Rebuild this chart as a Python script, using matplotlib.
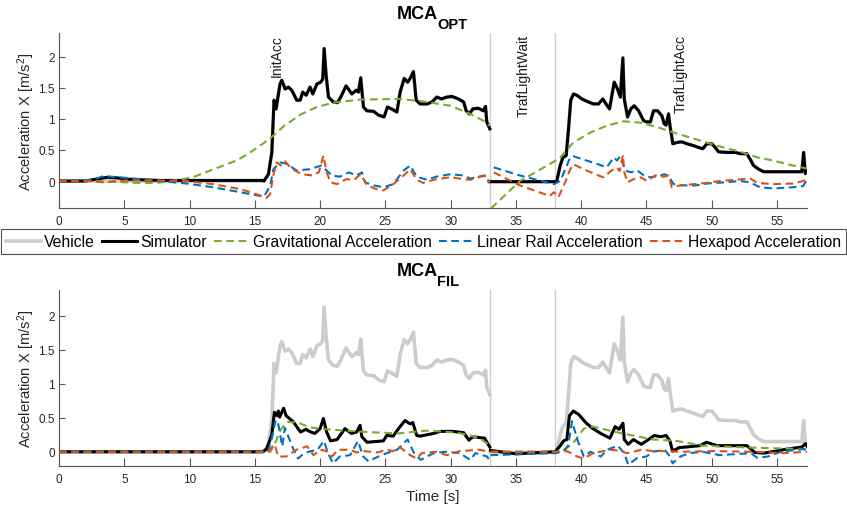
import numpy as np
import matplotlib
matplotlib.use("Agg")
import matplotlib.pyplot as plt

plt.rcParams['font.family'] = ['Liberation Sans', 'DejaVu Sans']
plt.rcParams['mathtext.fontset'] = 'custom'
plt.rcParams['mathtext.rm'] = 'Liberation Sans'
plt.rcParams['mathtext.it'] = 'Liberation Sans:italic'
plt.rcParams['mathtext.bf'] = 'Liberation Sans:bold'

nan = np.nan

# vehicle acceleration (same in both panels)
vehicle_pts = [(0, 0), (15.7, 0.0), (16.04, 0.11), (16.3, 0.46), (16.47, 1.30), (16.63, 1.16), (16.73, 1.30),
               (16.93, 1.56), (17.06, 1.62), (17.32, 1.48), (17.57, 1.51), (17.83, 1.46), (18.21, 1.30),
               (18.47, 1.30), (18.67, 1.43), (18.93, 1.38), (19.23, 1.51), (19.44, 1.40), (19.75, 1.56),
               (20.05, 1.59), (20.2, 1.64), (20.31, 2.13), (20.46, 1.70), (20.64, 1.35), (21.02, 1.27),
               (21.33, 1.26), (21.58, 1.35), (21.99, 1.53), (22.43, 1.40), (22.76, 1.46), (22.94, 1.43),
               (23.11, 1.66), (23.32, 1.19), (23.58, 1.13), (24.1, 1.12), (24.47, 1.06), (24.9, 1.03),
               (25.16, 1.19), (25.47, 1.16), (25.88, 1.11), (26.13, 1.43), (26.44, 1.65), (26.7, 1.59),
               (26.9, 1.65), (27.15, 1.76), (27.36, 1.30), (27.66, 1.24), (28.2, 1.24), (28.56, 1.27),
               (28.94, 1.35), (29.3, 1.32), (29.7, 1.35), (30.1, 1.36), (30.6, 1.32), (31.0, 1.27),
               (31.19, 1.13), (31.44, 1.08), (31.7, 1.16), (32.13, 1.17), (32.5, 1.13), (32.67, 1.20),
               (32.77, 0.95), (33.0, 0.84), (33.0, nan),
               (33.05, -0.01), (38.0, -0.01), (38.13, 0.0), (38.39, 0.25), (38.6, 0.38), (38.85, 0.41),
               (39.03, 0.84), (39.2, 1.30), (39.41, 1.40), (39.66, 1.38), (40.05, 1.32), (40.56, 1.27),
               (40.94, 1.24), (41.33, 1.24), (41.66, 1.32), (41.9, 1.24), (42.17, 1.16), (42.53, 1.59),
               (42.78, 1.48), (43.0, 1.35), (43.19, 1.98), (43.3, 1.32), (43.55, 1.03), (43.8, 1.16),
               (44.06, 1.21), (44.4, 1.13), (44.78, 0.97), (45.03, 0.95), (45.3, 0.95), (45.54, 1.13),
               (45.85, 1.13), (46.18, 1.05), (46.36, 0.92), (46.5, 0.90), (46.69, 1.08), (46.8, 0.89),
               (47.02, 0.60), (47.33, 0.62), (47.7, 0.63), (48.1, 0.60), (48.6, 0.57), (48.99, 0.54),
               (49.32, 0.52), (49.63, 0.60), (50.0, 0.60), (50.27, 0.54), (50.52, 0.47), (51.16, 0.46),
               (51.8, 0.46), (52.18, 0.44), (52.69, 0.44), (53.0, 0.33), (53.2, 0.25), (53.6, 0.19),
               (53.97, 0.15), (54.7, 0.15), (56.9, 0.15), (57.04, 0.46), (57.17, 0.12), (57.3, 0.16)]

# MCA_OPT: simulator follows the vehicle after the start, small bump before it
sim_opt_start = [(0, 0), (2.0, 0), (2.8, 0.03), (3.7, 0.06), (4.5, 0.05), (5.2, 0.03), (7.7, 0.01),
                 (15.6, 0.01)]

grav_opt_pts = [(0, 0), (2.5, 0), (4, -0.01), (6, -0.03), (7.5, -0.03), (8.5, 0.0), (9.5, 0.03),
                (10.5, 0.08), (11.6, 0.17), (12.6, 0.25), (13.6, 0.33), (14.5, 0.44), (15.4, 0.57),
                (16.2, 0.69), (17.2, 0.88), (18.5, 1.07), (19.75, 1.19), (21, 1.26), (23.1, 1.31),
                (26.1, 1.32), (27.9, 1.28), (30, 1.21), (31.5, 1.08), (32.5, 0.97), (33, 0.89), (33, nan),
                (33.1, -0.44), (34.2, -0.22), (35.3, 0.0), (36.9, 0.19), (37.9, 0.31), (38.4, 0.38),
                (39.4, 0.62), (40.7, 0.78), (41.97, 0.89), (43.24, 0.96), (44.5, 0.94), (45.8, 0.87),
                (47.07, 0.78), (48.35, 0.70), (49.6, 0.62), (50.9, 0.54), (52.2, 0.47), (53.5, 0.38),
                (54.7, 0.33), (56.0, 0.26), (57.3, 0.20)]

rail_opt_pts = [(0, 0), (2.6, 0.02), (3.4, 0.08), (5.2, 0.05), (7.7, 0.0), (9.8, -0.04), (11.8, -0.10),
                (13.9, -0.18), (15.15, -0.23), (15.7, -0.25), (16.17, -0.08), (16.42, 0.19), (16.93, 0.30),
                (17.4, 0.28), (18.2, 0.17), (19.2, 0.19), (20.1, 0.25), (20.9, 0.09), (21.5, 0.07),
                (22.2, 0.14), (22.8, 0.09), (23.2, 0.14), (23.45, -0.02), (24.1, -0.07), (24.85, -0.10),
                (25.6, -0.05), (26.4, 0.17), (26.9, 0.25), (27.4, 0.07), (28.2, 0.02), (28.9, 0.07),
                (30.0, 0.11), (31.0, 0.09), (31.5, 0.04), (32.6, 0.09), (32.9, -0.02), (33.0, -0.02),
                (33.0, nan),
                (33.3, 0.22), (35.3, 0.09), (37.9, -0.05), (38.4, 0.0), (39.16, 0.38), (39.4, 0.40),
                (40.4, 0.33), (41.3, 0.27), (41.96, 0.22), (42.5, 0.38), (42.75, 0.33), (43.0, 0.40),
                (43.37, 0.17), (43.8, 0.14), (44.3, 0.17), (44.8, 0.09), (45.3, 0.06), (46.1, 0.09),
                (46.36, 0.11), (46.7, 0.08), (47.07, -0.05), (47.8, -0.07), (48.8, -0.07), (49.6, -0.04),
                (50.4, -0.03), (52.2, 0.0), (52.9, -0.02), (53.7, -0.10), (54.7, -0.12), (56.2, -0.10),
                (57.0, -0.08), (57.3, 0.02)]

hexa_opt_pts = [(0, 0), (2.6, 0.0), (3.4, -0.02), (5.2, 0.01), (7.7, 0.01), (9.8, 0.0), (11.8, -0.05),
                (13.9, -0.13), (15.4, -0.23), (15.9, -0.27), (16.17, -0.21), (16.42, 0.10), (16.68, 0.30),
                (17.0, 0.25), (17.3, 0.32), (17.8, 0.20), (18.6, 0.11), (19.4, 0.09), (19.9, 0.14),
                (20.25, 0.41), (20.5, 0.14), (20.8, -0.02), (21.3, -0.05), (22.0, 0.03), (22.6, 0.02),
                (23.1, 0.11), (23.6, -0.07), (24.3, -0.13), (24.85, -0.15), (25.6, -0.05), (26.4, 0.09),
                (26.9, 0.19), (27.4, 0.02), (27.9, -0.03), (28.9, 0.03), (30.0, 0.06), (31.0, 0.03),
                (31.5, 0.02), (32.6, 0.09), (33.0, -0.02), (33.0, nan),
                (33.3, 0.14), (35.3, -0.07), (37.6, -0.24), (37.9, -0.18), (38.26, -0.26), (38.77, -0.02),
                (39.16, 0.19), (39.4, 0.27), (40.2, 0.19), (41.07, 0.11), (41.7, 0.06), (42.2, 0.15),
                (42.73, 0.22), (42.95, 0.16), (43.2, 0.42), (43.3, 0.14), (43.55, -0.02), (44.0, 0.03),
                (44.55, 0.06), (45.05, 0.0), (45.67, 0.09), (46.3, 0.07), (46.7, 0.09), (46.95, -0.10),
                (47.6, -0.07), (48.6, -0.05), (49.6, -0.03), (50.6, 0.0), (52.4, 0.03), (52.95, 0.04),
                (53.5, -0.03), (54.7, -0.05), (56.2, -0.04), (57.0, 0.0), (57.3, 0.04)]

# MCA_FIL components
sim_fil_pts = [(0, 0), (15.6, 0), (15.9, 0.04), (16.3, 0.25), (16.5, 0.58), (16.7, 0.53), (16.8, 0.60),
               (16.9, 0.51), (17.2, 0.64), (17.4, 0.53), (17.95, 0.44), (18.5, 0.29), (18.9, 0.33),
               (19.3, 0.29), (19.6, 0.27), (20.0, 0.34), (20.25, 0.49), (20.5, 0.29), (20.8, 0.16),
               (21.3, 0.18), (21.9, 0.34), (22.4, 0.27), (22.8, 0.29), (23.06, 0.39), (23.2, 0.22),
               (23.6, 0.14), (24.85, 0.16), (25.1, 0.24), (25.6, 0.23), (26.0, 0.34), (26.5, 0.46),
               (26.9, 0.41), (27.1, 0.43), (27.4, 0.24), (27.66, 0.23), (28.7, 0.27), (29.2, 0.30),
               (30.2, 0.30), (31.0, 0.28), (31.4, 0.17), (31.7, 0.22), (32.6, 0.20), (32.9, 0.10),
               (33.0, 0.07), (33.0, nan),
               (33.05, 0.02), (35.0, -0.03), (38.0, 0.0), (38.4, 0.09), (38.65, 0.16), (38.9, 0.18),
               (39.1, 0.53), (39.4, 0.60), (39.8, 0.55), (40.4, 0.42), (40.9, 0.34), (41.5, 0.27),
               (42.2, 0.20), (42.6, 0.37), (42.9, 0.33), (43.2, 0.42), (43.3, 0.18), (43.6, 0.11),
               (44.0, 0.18), (44.6, 0.11), (45.0, 0.16), (45.6, 0.24), (46.1, 0.22), (46.5, 0.24),
               (46.8, 0.16), (47.0, 0.01), (47.5, 0.06), (49.1, 0.09), (49.6, 0.14), (50.4, 0.09),
               (52.7, 0.09), (53.3, -0.01), (54.0, -0.02), (55.8, 0.04), (56.9, 0.07), (57.2, 0.12),
               (57.3, 0.08)]

grav_fil_pts = [(0, 0), (16.2, 0), (16.6, 0.15), (17.0, 0.33), (17.5, 0.44), (18.3, 0.43), (19.2, 0.36),
                (20.5, 0.33), (22.1, 0.31), (23.6, 0.29), (26.0, 0.27), (27.0, 0.29), (28.2, 0.31),
                (29.2, 0.30), (30.5, 0.28), (31.5, 0.24), (32.3, 0.19), (32.8, 0.12), (33.0, 0.09),
                (33.0, nan),
                (33.05, 0.0), (38.0, 0.0), (38.6, 0.01), (39.4, 0.13), (40.2, 0.34), (40.9, 0.37),
                (42.9, 0.28), (45.5, 0.18), (47.3, 0.16), (49.3, 0.09), (53.2, 0.06), (57.3, 0.04)]

rail_fil_pts = [(0, 0), (16.0, 0), (16.3, 0.20), (16.6, 0.47), (16.8, 0.40), (17.1, 0.08), (17.3, 0.35),
                (17.95, 0.04), (18.3, -0.10), (18.6, -0.05), (19.1, 0.0), (19.8, 0.03), (20.3, 0.16),
                (20.6, -0.02), (21.0, -0.17), (21.5, -0.07), (22.3, -0.05), (22.9, 0.16), (23.3, -0.07),
                (23.7, -0.14), (24.35, -0.08), (25.1, -0.02), (25.9, 0.03), (26.7, 0.18), (27.2, -0.02),
                (27.7, -0.12), (28.7, -0.02), (29.6, 0.0), (30.7, -0.02), (31.5, -0.12), (31.9, -0.02),
                (32.8, -0.07), (33.0, -0.14), (33.0, nan),
                (33.05, -0.05), (38.0, -0.02), (38.6, 0.0), (39.0, 0.09), (39.3, 0.45), (39.7, 0.18),
                (40.2, -0.07), (40.7, 0.0), (41.5, -0.07), (42.0, 0.03), (42.8, 0.09), (43.3, -0.02),
                (43.6, -0.19), (44.3, -0.09), (45.0, -0.07), (45.5, 0.0), (46.4, 0.03), (46.8, -0.07),
                (47.0, -0.17), (47.6, -0.07), (48.3, -0.02), (49.3, 0.0), (50.6, -0.05), (53.0, -0.02),
                (53.5, -0.09), (54.3, -0.07), (55.3, 0.0), (57.0, 0.04), (57.3, 0.02)]

hexa_fil_pts = [(0, 0), (16.0, 0), (16.5, 0.11), (16.8, -0.07), (17.4, -0.07), (18.2, 0.03), (19.0, 0.08),
                (19.5, -0.05), (20.0, 0.03), (20.5, 0.01), (20.9, -0.07), (21.4, 0.03), (22.3, 0.03),
                (22.8, -0.01), (23.3, 0.01), (24.4, -0.01), (25.1, 0.03), (25.6, 0.01), (26.1, 0.07),
                (26.9, -0.05), (27.4, -0.10), (27.8, -0.02), (28.9, 0.0), (29.7, -0.05), (30.7, 0.01),
                (32.2, 0.03), (33.0, 0.0), (33.0, nan),
                (33.05, 0.0), (38.0, 0.0), (38.9, 0.01), (39.7, -0.07), (40.2, -0.10), (40.9, -0.02),
                (41.7, 0.01), (42.4, 0.03), (43.0, 0.01), (43.5, -0.02), (44.0, 0.0), (44.6, 0.03),
                (45.5, 0.01), (46.5, 0.01), (47.5, 0.0), (50.0, 0.01), (53.0, 0.0), (55.5, -0.02),
                (57.3, 0.0)]

phase_bounds = [33.0, 38.0]
phase_labels = ["InitAcc", "TrafLightWait", "TrafLightAcc"]
phase_label_x = [16.7, 35.6, 47.6]

series_names = ["Vehicle", "Simulator", "Gravitational Acceleration",
                "Linear Rail Acceleration", "Hexapod Acceleration"]
c_vehicle = "#cccccc"
c_sim = "black"
c_grav = "#77AC30"
c_rail = "#0072BD"
c_hexa = "#D95319"
dash = (0, (3.7, 2.2))


def xy(pts):
    arr = np.array(pts, dtype=float)
    return arr[:, 0], arr[:, 1]


def style_axis(ax, ylim):
    ax.set_xlim(0, 57.3)
    ax.set_ylim(*ylim)
    ax.set_xticks(np.arange(0, 56, 5))
    ax.set_yticks([0, 0.5, 1, 1.5, 2])
    ax.set_yticklabels(["0", "0.5", "1", "1.5", "2"])
    for s in ["top", "right"]:
        ax.spines[s].set_visible(False)
    for s in ["left", "bottom"]:
        ax.spines[s].set_color("#555555")
        ax.spines[s].set_linewidth(0.8)
    ax.tick_params(axis="x", direction="in", length=6, width=0.8, color="#555555",
                   labelsize=8.5, labelcolor="#262626", pad=5)
    ax.tick_params(axis="y", direction="in", length=4.5, width=0.8, color="#555555",
                   labelsize=8.5, labelcolor="#262626", pad=3)
    ax.set_ylabel(r"Acceleration X [m/s$^2$]", fontsize=10.6, color="#262626", labelpad=1)
    for b in phase_bounds:
        ax.axvline(b, color="#d0d0d0", lw=1.0, zorder=1)


def title(ax, main, sub):
    # bold main text with a bold subscript hanging from its baseline
    h_px = ax.get_position().height * 510
    t = ax.text(0.452, 1.0 + 15 / h_px, main, transform=ax.transAxes, fontsize=13,
                fontweight="bold", ha="left", va="baseline")
    ax.annotate(sub, xy=(1.0, 0.0), xycoords=t, xytext=(-0.8, 3.4), textcoords="offset points",
                fontsize=10.5, fontweight="bold", ha="left", va="top")


def draw(ax, sim_pts, grav_pts, rail_pts, hexa_pts):
    handles = []
    t, a = xy(vehicle_pts)
    handles += ax.plot(t, a, color=c_vehicle, lw=2.6, zorder=2)
    t, a = xy(sim_pts)
    handles += ax.plot(t, a, color=c_sim, lw=2.2, zorder=3)
    t, a = xy(grav_pts)
    handles += ax.plot(t, a, color=c_grav, lw=1.5, ls=dash, zorder=4)
    t, a = xy(rail_pts)
    handles += ax.plot(t, a, color=c_rail, lw=1.5, ls=dash, zorder=5)
    t, a = xy(hexa_pts)
    handles += ax.plot(t, a, color=c_hexa, lw=1.5, ls=dash, zorder=6)
    return handles


fig = plt.figure(figsize=(8.47, 5.1), dpi=100)
ax1 = fig.add_axes([0.0697, 0.590, 0.8831, 0.3433])
ax2 = fig.add_axes([0.0697, 0.0849, 0.8831, 0.3445])

sim_opt_pts = sim_opt_start + [p for p in vehicle_pts if p[0] > 15.65]
handles = draw(ax1, sim_opt_pts, grav_opt_pts, rail_opt_pts, hexa_opt_pts)
style_axis(ax1, (-0.435, 2.38))
title(ax1, "MCA", "OPT")
for lab, x in zip(phase_labels, phase_label_x):
    ax1.text(x, 2.36, lab, rotation=90, ha="center", va="top", fontsize=10, color="#1a1a1a", zorder=7)

draw(ax2, sim_fil_pts, grav_fil_pts, rail_fil_pts, hexa_fil_pts)
style_axis(ax2, (-0.205, 2.38))
title(ax2, "MCA", "FIL")
ax2.set_xlabel("Time [s]", fontsize=11, color="#262626", labelpad=3)

leg = fig.legend(handles, series_names, loc="center", bbox_to_anchor=(0.5, 0.5245), ncol=5,
                 fontsize=11.3, frameon=True, fancybox=False, edgecolor="#262626",
                 handlelength=2.25, handletextpad=0.2, columnspacing=0.45, borderpad=0.3,
                 borderaxespad=0)
leg.get_frame().set_linewidth(0.8)

fig.savefig("out.png", dpi=100)
